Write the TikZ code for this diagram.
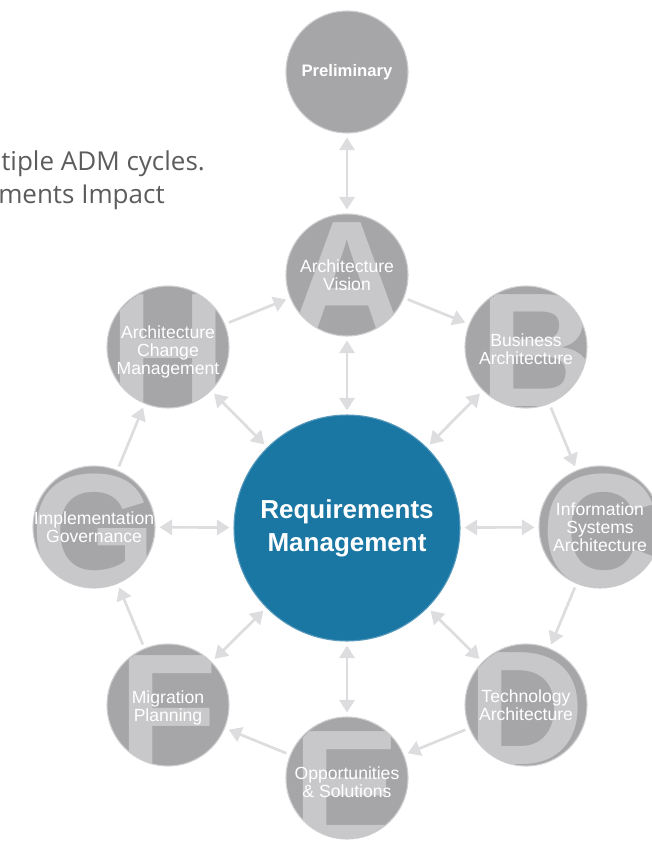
\documentclass[tikz,border=0pt]{standalone}
\usepackage{fontspec}
\setmainfont{Liberation Sans}
\newfontfamily\introfont{Open Sans}
\usetikzlibrary{arrows.meta}
\definecolor{circfill}{RGB}{166,166,169}
\definecolor{circedge}{RGB}{208,208,210}
\definecolor{letterc}{RGB}{200,200,202}
\definecolor{arrowc}{RGB}{221,221,223}
\definecolor{reqblue}{RGB}{26,118,163}
\definecolor{reqedge}{RGB}{90,155,188}
\definecolor{introtext}{RGB}{92,92,92}
\newcommand\phaseletter[3]{%
  \begin{scope}
    \clip (#1.center) circle (45.3pt);
    \node[biglet] (let#1) at ([#3]#1.center) {#2};
  \end{scope}}
\begin{document}
\begin{tikzpicture}[x=0.75pt,y=-0.75pt,
  phase/.style={circle, fill=circfill, draw=circedge, line width=0.8pt, minimum size=91.5pt, inner sep=0pt},
  req/.style={circle, fill=reqblue, draw=reqedge, line width=0.8pt, minimum size=169.5pt, inner sep=0pt},
  biglet/.style={text=letterc, font=\fontsize{122}{122}\bfseries\selectfont, inner sep=0pt, anchor=center},
  lbl/.style={text=white, align=center, font=\fontsize{13.2}{13.5}\selectfont, inner sep=0pt},
  link/.style={draw=arrowc, line width=2pt, -{Triangle[length=9.5pt,width=11.5pt]}, shorten >=3pt, shorten <=3pt},
  dlink/.style={link, {Triangle[length=9.5pt,width=11.5pt]}-{Triangle[length=9.5pt,width=11.5pt]}},
  intro/.style={text=introtext, font=\introfont\fontsize{19.5}{22}\selectfont, inner sep=0pt, anchor=base west},
]
\useasboundingbox (0,0) rectangle (651,845);

% intro text (cut at the left edge)
\begin{scope}
  \clip (0,0) rectangle (651,845);
  \node[intro] (intro1) at (1,171) {tiple ADM cycles.};
  \node[intro] (intro2) at (-2,203) {ments Impact};
\end{scope}

% phase circles
\node[phase] (P) at (347,72) {};
\node[phase] (A) at (347,275) {};
\node[phase] (B) at (526,347) {};
\node[phase] (C) at (600,527) {};
\node[phase] (D) at (526,705) {};
\node[phase] (E) at (347,778) {};
\node[phase] (F) at (168,705) {};
\node[phase] (G) at (94,527) {};
\node[phase] (H) at (168,347) {};
\node[req] (R) at (347,528) {};

% big background letters
\phaseletter{A}{A}{yshift=-3pt}
\phaseletter{B}{B}{xshift=9pt,yshift=-3pt}
\phaseletter{C}{C}{yshift=-3pt}
\phaseletter{D}{D}{yshift=-3pt}
\phaseletter{E}{E}{yshift=-7pt}
\phaseletter{F}{F}{yshift=-5pt}
\phaseletter{G}{G}{yshift=-3pt}
\phaseletter{H}{H}{yshift=-3pt}

% labels
\node[lbl, font=\fontsize{12.5}{13}\bfseries\selectfont] (tP) at (P.center) {Preliminary};
\node[lbl] (tA) at (A.center) {Architecture\\Vision};
\node[lbl] (tB) at ([yshift=-2pt]B.center) {Business\\Architecture};
\node[lbl] (tC) at (C.center) {Information\\Systems\\Architecture};
\node[lbl] (tD) at (D.center) {Technology\\Architecture};
\node[lbl] (tE) at ([yshift=-3pt]E.center) {Opportunities\\\& Solutions};
\node[lbl] (tF) at ([yshift=-2.5pt]F.center) {Migration\\Planning};
\node[lbl] (tG) at (G.center) {Implementation\\Governance};
\node[lbl] (tH) at ([yshift=-3.5pt]H.center) {Architecture\\Change\\Management};
\node[text=white, align=center, inner sep=0pt, font=\fontsize{19.5}{24.75}\bfseries\selectfont] (tR) at (R.center) {Requirements\\Management};

% cycle arrows
\draw[dlink] (P) -- (A);
\draw[link] (A) -- (B);
\draw[link] (B) -- (C);
\draw[link] (C) -- (D);
\draw[link] (D) -- (E);
\draw[link] (E) -- (F);
\draw[link] (F) -- (G);
\draw[link] (G) -- (H);
\draw[link] (H) -- (A);

% requirements links
\foreach \n in {A,B,C,D,E,F,G,H}
  \draw[dlink] (R) -- (\n);
\end{tikzpicture}
\end{document}
